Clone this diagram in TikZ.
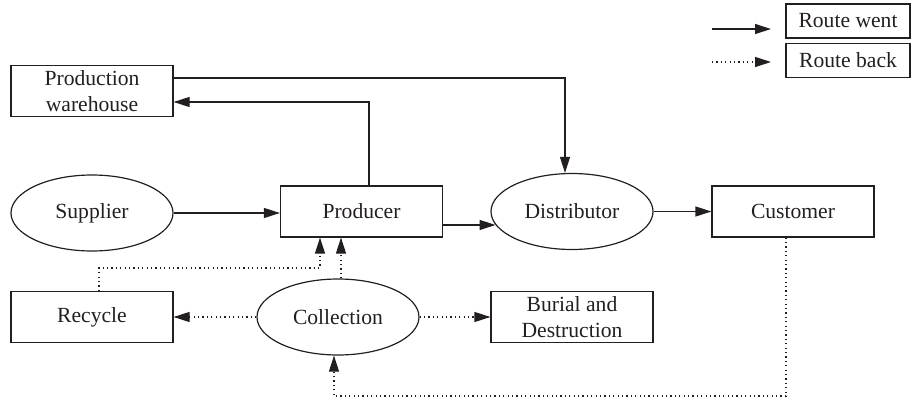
\documentclass[tikz,border=0pt]{standalone}
\usepackage{fontspec}
\setmainfont{Liberation Serif}
\usetikzlibrary{arrows.meta,shapes.geometric}
\definecolor{ink}{RGB}{35,31,32}
\begin{document}
\begin{tikzpicture}[x=0.5pt,y=-0.5pt,
  every node/.style={font=\fontsize{10.8}{13}\selectfont, text=ink},
  box/.style={draw=ink, line width=0.6pt, rectangle, minimum width=81pt, minimum height=25.5pt, inner sep=1pt, align=center},
  oval/.style={draw=ink, line width=0.6pt, ellipse, minimum width=81pt, minimum height=38pt, inner sep=0pt},
  legbox/.style={draw=ink, line width=0.6pt, rectangle, minimum width=62pt, minimum height=17pt, inner sep=1pt},
  went/.style={draw=ink, line width=0.6pt, -{Triangle[length=8pt,width=5pt]}},
  back/.style={draw=ink, line width=0.6pt, dash pattern=on 0.6pt off 1.6pt, -{Triangle[length=8pt,width=5pt]}}]
\useasboundingbox (0,0) rectangle (911,402);

% nodes
\node[box]  (wh)   at (92,91)    {Production\\warehouse};
\node[oval] (sup)  at (92,213)   {Supplier};
\node[box]  (prod) at (361.5,211.5) {Producer};
\node[oval] (dist) at (572,211.5) {Distributor};
\node[box]  (cust) at (793,211.5) {Customer};
\node[box]  (rec)  at (92,317)   {Recycle};
\node[oval] (col)  at (338,317)  {Collection};
\node[box]  (bur)  at (572,317)  {Burial and\\Destruction};

% legend
\node[legbox] (lw) at (848,21)   {Route went};
\node[legbox] (lb) at (848,60.5) {Route back};
\coordinate (lwa) at (712,29);
\coordinate (lwb) at (771,29);
\coordinate (lba) at (712,62);
\coordinate (lbb) at (771,62);
\draw[went] (lwa) -- (lwb);
\draw[back] (lba) -- (lbb);

% route went
\draw[went] ([yshift=6.5pt]wh.east) -| ([xshift=-3.5pt]dist.north);
\draw[went] ([xshift=3.75pt]prod.north) |- ([yshift=-5.5pt]wh.east);
\draw[went] (sup.east) -- (sup.east -| prod.west);
\draw[went] (prod.east |- dist.190) -- (dist.190);
\draw[went] (dist.east) -- (cust.west);

% route back
\coordinate (c1) at (320,268);
\coordinate (c2) at (334,396);
\draw[back] ([xshift=3.5pt]rec.north) |- (c1) -- (c1 |- prod.south);
\draw[back] ([xshift=1.5pt]col.north) -- ([xshift=1.5pt]col.north |- prod.south);
\draw[back] (col.west) -- (rec.east);
\draw[back] (col.east) -- (bur.west);
\draw[back] ([xshift=-3.5pt]cust.south) |- (c2) -- (c2 |- col.south);
\end{tikzpicture}
\end{document}
